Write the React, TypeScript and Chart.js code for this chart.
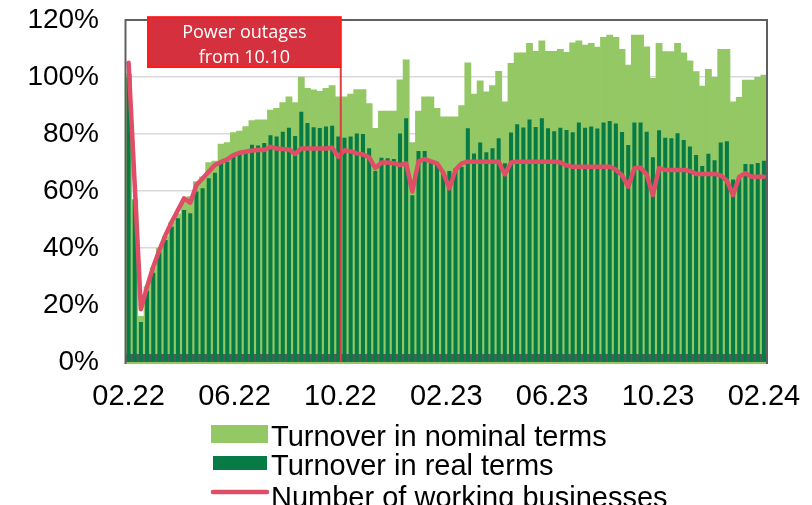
import React, { useEffect, useRef } from 'react';
import { Chart, registerables } from 'chart.js';

Chart.register(...registerables);

// Weekly observations, first week starting 14.02.2022 (values in % of pre-war level)
const nominal = [
  101, 57, 16, 26.5, 33, 40, 44, 49, 52, 56, 58, 63.3, 65, 70, 70.5, 76.5, 77, 80.5, 81, 82.6,
  84.7, 85, 85, 88.4, 89, 91, 93, 91, 100, 96, 95.5, 95, 96, 97, 93, 93, 94, 95.6, 95.6, 90.7,
  82, 88, 88, 88, 99, 106, 77, 88, 93, 93, 89, 86, 86, 86, 90, 105, 94, 98.7, 94.8, 97,
  102, 91.3, 104.8, 108.5, 108.5, 111.8, 109, 112.7, 109, 109, 109.7, 108.7, 112, 112.7, 111.2, 111.8, 110.5, 113.9, 114.7, 113.9,
  109.7, 104.2, 114.7, 114.7, 110.6, 99.5, 111.8, 108.9, 108.9, 111.8, 108.5, 105.7, 101.9, 96.8, 102.7, 99.9, 109.7, 109.7, 91.3, 92.9,
  98.9, 98.9, 99.9, 100.7,
];

const real = [
  100, 57, 14, 25, 31.3, 38.5, 42.8, 47.5, 50.4, 53.3, 52.2, 59.8, 61, 64.5, 66.4, 69.7, 70.3, 72.5, 73, 74,
  76.2, 76, 76.8, 79.6, 79.1, 80.8, 82.2, 79.3, 87.8, 83.9, 82.4, 82.1, 82.6, 82.9, 79.1, 78.7, 79.1, 80.2, 80, 75,
  67, 71.7, 71.5, 71.2, 80.2, 85.5, 58.5, 74, 74, 70, 69.5, 66.5, 67, 68, 68.5, 82, 73.2, 77, 73.6, 75,
  78.5, 69.7, 80.5, 83.4, 82.3, 85.1, 82.5, 85.5, 82, 81, 82.2, 81.4, 80.6, 84, 82.2, 82.6, 81.9, 84, 84.6, 83.7,
  80.7, 76.1, 84, 84, 80.8, 71.8, 81.3, 78.7, 78.5, 80.3, 77.9, 75.6, 72.6, 68.8, 73.1, 70.8, 77, 77.5, 64, 64.5,
  69.5, 69.4, 69.8, 70.6,
];

const working = [
  105, 62, 18.5, 26.4, 33.4, 39.3, 44.6, 49.2, 53.3, 57.4, 55.9, 62.1, 64.4, 66.8, 69.1, 70.2, 71.1, 72.6, 73.4, 73.8,
  74.2, 74.4, 74.4, 75.5, 74.9, 74.7, 74.6, 73, 74.9, 74.9, 74.9, 74.9, 74.9, 75.2, 72, 74.3, 73.9, 73.2, 72.8, 71.8,
  68, 70, 70, 69.7, 69.1, 69.7, 59.8, 70.4, 71.2, 70.4, 69.7, 66.5, 60.9, 67.4, 69.7, 70.3, 70.3, 70.3, 70.3, 70.3,
  70.3, 65.8, 70, 70.3, 70.3, 70.3, 70.3, 70.3, 70.3, 70.3, 70, 69, 68.5, 68.5, 68.5, 68.5, 68.5, 68.5, 68.5, 67.5,
  65.5, 61.5, 68, 68.2, 65.8, 58.6, 68, 67.4, 67.4, 67.4, 67.4, 67, 66, 66, 66, 66, 65.5, 63.6, 58.6, 65,
  66.2, 65, 65, 65,
];

const firstWeek = Date.UTC(2022, 1, 14);
const weeks = nominal.map((_, i) => {
  const d = new Date(firstWeek + i * 7 * 86400000);
  return `${String(d.getUTCDate()).padStart(2, '0')}.${String(d.getUTCMonth() + 1).padStart(2, '0')}.${d.getUTCFullYear()}`;
});

const tickLabels = ['02.22', '06.22', '10.22', '02.23', '06.23', '10.23', '02.24'];
const seriesNames = ['Turnover in nominal terms', 'Turnover in real terms', 'Number of working businesses'];
const annotationLines = ['Power outages', 'from 10.10'];
const outageIndex = 34.4;

const COLORS = {
  nominal: '#93c865',
  real: '#067b45',
  working: '#df4d66',
  frame: '#606060',
  band: '#595959',
  grid: '#d9d9d9',
  boxFill: '#d5303e',
  boxBorder: '#ff1a1a',
  marker: '#e23b48',
};

const FONT = '"Liberation Sans", Arial, sans-serif';

const decorPlugin = {
  id: 'decor',
  beforeDatasetDraw(chart: any, args: any) {
    if (args.index !== 1) return;
    const { ctx, chartArea } = chart;
    ctx.save();
    ctx.fillStyle = COLORS.band;
    ctx.fillRect(chartArea.left, chartArea.bottom - 8, chartArea.right - chartArea.left, 8);
    ctx.restore();
  },
  afterDatasetsDraw(chart: any) {
    const { ctx, chartArea } = chart;
    const { left, right, top, bottom } = chartArea;
    const xs = chart.scales.x;
    const ys = chart.scales.y;
    ctx.save();
    ctx.fillStyle = COLORS.nominal;
    ctx.fillRect(left, bottom, right - left, 2);
    ctx.strokeStyle = COLORS.frame;
    ctx.lineWidth = 2;
    ctx.beginPath();
    ctx.moveTo(left, bottom + 2);
    ctx.lineTo(left, top);
    ctx.lineTo(right, top);
    ctx.lineTo(right, bottom + 2);
    ctx.stroke();

    const xLine = xs.getPixelForValue(outageIndex);
    const xBoxLeft = xs.getPixelForValue(3.15);
    const yBoxTop = ys.getPixelForValue(121);
    const yBoxBottom = ys.getPixelForValue(103.5);
    ctx.strokeStyle = COLORS.marker;
    ctx.lineWidth = 2;
    ctx.beginPath();
    ctx.moveTo(xLine, yBoxBottom);
    ctx.lineTo(xLine, bottom);
    ctx.stroke();

    ctx.fillStyle = COLORS.boxFill;
    ctx.fillRect(xBoxLeft, yBoxTop, xLine - xBoxLeft, yBoxBottom - yBoxTop);
    ctx.strokeStyle = COLORS.boxBorder;
    ctx.lineWidth = 2;
    ctx.strokeRect(xBoxLeft, yBoxTop, xLine - xBoxLeft, yBoxBottom - yBoxTop);

    ctx.fillStyle = '#ffffff';
    ctx.font = '18px "Open Sans", sans-serif';
    ctx.textAlign = 'center';
    ctx.textBaseline = 'alphabetic';
    const cx = (xBoxLeft + xLine) / 2;
    ctx.fillText(annotationLines[0], cx, yBoxTop + 20.5);
    ctx.fillText(annotationLines[1], cx, yBoxTop + 46);
    ctx.restore();
  },
  afterDraw(chart: any) {
    const { ctx } = chart;
    const ds = chart.data.datasets;
    ctx.save();
    ctx.font = `29px ${FONT}`;
    ctx.textAlign = 'left';
    ctx.textBaseline = 'alphabetic';
    const textX = 271;
    ctx.fillStyle = ds[0].backgroundColor;
    ctx.fillRect(211, 425, 57, 18);
    ctx.fillStyle = '#000';
    ctx.fillText(ds[0].label, textX, 445.5);
    ctx.fillStyle = ds[1].backgroundColor;
    ctx.fillRect(213, 456, 54, 14);
    ctx.fillStyle = '#000';
    ctx.fillText(ds[1].label, textX, 475);
    ctx.strokeStyle = ds[2].borderColor;
    ctx.lineWidth = 4.5;
    ctx.lineCap = 'round';
    ctx.beginPath();
    ctx.moveTo(213, 492);
    ctx.lineTo(267, 492);
    ctx.stroke();
    ctx.fillText(ds[2].label, textX, 507);
    ctx.restore();
  },
};

const zeroPad = (s: any) => {
  s.paddingTop = 0;
  s.paddingBottom = 0;
  s.paddingLeft = 0;
  s.paddingRight = 0;
};

export default function App() {
  const canvasRef = useRef<HTMLCanvasElement | null>(null);

  useEffect(() => {
    const canvas = canvasRef.current;
    if (!canvas) return;
    const lastIndex = weeks.length - 1;
    const tickPositions = tickLabels.map((_, k) => (k * lastIndex) / (tickLabels.length - 1));

    const chart = new Chart(canvas, {
      type: 'bar',
      data: {
        labels: weeks,
        datasets: [
          {
            type: 'bar',
            label: seriesNames[0],
            data: nominal,
            backgroundColor: COLORS.nominal,
            borderWidth: 0,
            barPercentage: 1,
            categoryPercentage: 1,
            grouped: false,
            order: 3,
          },
          {
            type: 'bar',
            label: seriesNames[1],
            data: real,
            backgroundColor: COLORS.real,
            borderWidth: 0,
            barPercentage: 0.65,
            categoryPercentage: 1,
            grouped: false,
            order: 2,
          },
          {
            type: 'line',
            label: seriesNames[2],
            data: working,
            borderColor: COLORS.working,
            backgroundColor: COLORS.working,
            borderWidth: 4.5,
            pointRadius: 0,
            tension: 0,
            borderJoinStyle: 'round',
            borderCapStyle: 'round',
            order: 1,
          },
        ],
      } as any,
      options: {
        responsive: false,
        animation: false,
        devicePixelRatio: 1,
        layout: { padding: { left: 0, right: 45, top: 20, bottom: 0 } },
        plugins: {
          legend: { display: false },
          tooltip: { enabled: false },
        },
        scales: {
          x: {
            type: 'category',
            offset: true,
            grid: { display: false, drawTicks: false },
            border: { display: false },
            afterFit: (s: any) => {
              s.height = 143;
              zeroPad(s);
            },
            afterBuildTicks: (s: any) => {
              s.ticks = tickPositions.map((v) => ({ value: v }));
            },
            ticks: {
              autoSkip: false,
              maxRotation: 0,
              minRotation: 0,
              padding: 18,
              color: '#000',
              font: { family: FONT, size: 29 },
              callback: (_v: any, i: number) => tickLabels[i],
            },
          },
          y: {
            min: 0,
            max: 120,
            grid: { color: COLORS.grid, lineWidth: 1.5, drawTicks: false },
            border: { display: false },
            afterFit: (s: any) => {
              s.width = 125.5;
              zeroPad(s);
            },
            ticks: {
              stepSize: 20,
              padding: 26.5,
              color: '#000',
              font: { family: FONT, size: 28 },
              callback: (v: any) => `${v}%`,
            },
          },
        },
      } as any,
      plugins: [decorPlugin],
    });

    return () => chart.destroy();
  }, []);

  return (
    <div style={{ position: 'fixed', left: 0, top: 0, width: 812, height: 505, background: '#fff' }}>
      <canvas ref={canvasRef} width={812} height={505} style={{ width: 812, height: 505, display: 'block' }} />
    </div>
  );
}
